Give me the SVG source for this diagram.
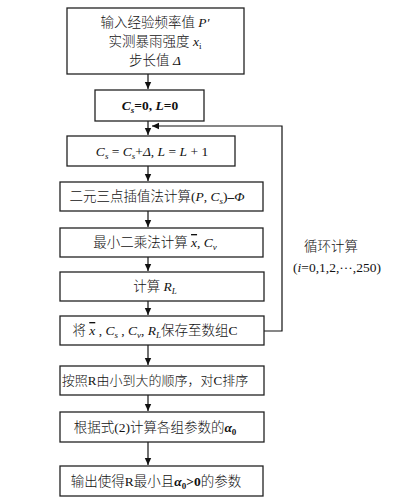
<svg xmlns="http://www.w3.org/2000/svg" width="404" height="501" viewBox="0 0 404 501">
<defs>
<marker id="ah" markerWidth="8" markerHeight="8" refX="7" refY="4" orient="auto" markerUnits="userSpaceOnUse">
<path d="M0,0.8 L7,4 L0,7.2 Z" fill="#111"/>
</marker>
<style>
rect.box{fill:#fff;stroke:#222;stroke-width:1.3}
text{font-family:"Liberation Serif","Noto Sans CJK SC",serif;font-size:13.5px;font-weight:300;fill:#111;text-anchor:middle}
.i{font-style:italic}
.b{font-weight:bold}
.s{font-size:9px}
.ov{text-decoration:overline}
.ln{fill:none;stroke:#111;stroke-width:1.2}
</style>
</defs>
<rect width="404" height="501" fill="#fff"/>
<g id="connectors">
<line class="ln" x1="148" y1="74" x2="148" y2="89" marker-end="url(#ah)"/>
<line class="ln" x1="148" y1="121" x2="148" y2="135" marker-end="url(#ah)"/>
<line class="ln" x1="148" y1="166" x2="148" y2="181" marker-end="url(#ah)"/>
<line class="ln" x1="148" y1="211" x2="148" y2="227" marker-end="url(#ah)"/>
<line class="ln" x1="148" y1="257" x2="148" y2="271" marker-end="url(#ah)"/>
<line class="ln" x1="148" y1="301" x2="148" y2="315" marker-end="url(#ah)"/>
<line class="ln" x1="148" y1="345" x2="148" y2="365" marker-end="url(#ah)"/>
<line class="ln" x1="148" y1="395" x2="148" y2="411" marker-end="url(#ah)"/>
<line class="ln" x1="148" y1="442" x2="148" y2="465" marker-end="url(#ah)"/>
<polyline class="ln" points="264,331 282,331 282,126 152,126" marker-end="url(#ah)"/>
</g>
<g id="n1">
<rect class="box" x="67" y="8" width="177" height="66"/>
<text x="155" y="27">输入经验频率值 <tspan class="i">P′</tspan></text>
<text x="155" y="46">实测暴雨强度 <tspan class="i">x</tspan><tspan class="s" dy="3">i</tspan></text>
<text x="155" y="65">步长值 <tspan class="i">Δ</tspan></text>
</g>
<g id="n2">
<rect class="box" x="95" y="90" width="109" height="31"/>
<text x="150" y="110" class="b"><tspan class="i">C</tspan><tspan class="s i" dy="3">s</tspan><tspan dy="-3">=0, </tspan><tspan class="i">L</tspan>=0</text>
</g>
<g id="n3">
<rect class="box" x="67" y="136" width="168" height="30"/>
<text x="152" y="156"><tspan class="i">C</tspan><tspan class="s i" dy="3">s</tspan><tspan dy="-3"> = </tspan><tspan class="i">C</tspan><tspan class="s i" dy="3">s</tspan><tspan dy="-3">+</tspan><tspan class="i">Δ</tspan>, <tspan class="i">L</tspan> = <tspan class="i">L</tspan> + 1</text>
</g>
<g id="n4">
<rect class="box" x="60" y="182" width="203" height="29"/>
<text x="157" y="201">二元三点插值法计算(<tspan class="i">P</tspan>, <tspan class="i">C</tspan><tspan class="s i" dy="3">s</tspan><tspan dy="-3">)</tspan><tspan class="b">–</tspan><tspan class="i">Φ</tspan></text>
</g>
<g id="n5">
<rect class="box" x="60" y="228" width="203" height="29"/>
<text x="155" y="247">最小二乘法计算 <tspan class="i ov">x</tspan>, <tspan class="i">C</tspan><tspan class="s i" dy="3">v</tspan></text>
</g>
<g id="n6">
<rect class="box" x="60" y="272" width="204" height="29"/>
<text x="155" y="291">计算 <tspan class="i">R</tspan><tspan class="s i" dy="3">L</tspan></text>
</g>
<g id="n7">
<rect class="box" x="60" y="316" width="204" height="29"/>
<text x="155" y="335">将 <tspan class="i ov">x</tspan> , <tspan class="i">C</tspan><tspan class="s i" dy="3">s</tspan><tspan dy="-3"> , </tspan><tspan class="i">C</tspan><tspan class="s i" dy="3">v</tspan><tspan dy="-3">, </tspan><tspan class="i">R</tspan><tspan class="s i" dy="3">L</tspan><tspan dy="-3">保存至数组C</tspan></text>
</g>
<g id="n8">
<rect class="box" x="60" y="366" width="204" height="29"/>
<text x="155" y="385" style="font-size:13px">按照R由小到大的顺序，对C排序</text>
</g>
<g id="n9">
<rect class="box" x="60" y="412" width="204" height="30"/>
<text x="155" y="432">根据式(2)计算各组参数的<tspan class="i b">α</tspan><tspan class="s b" dy="3">0</tspan></text>
</g>
<g id="n10">
<rect class="box" x="60" y="466" width="203" height="30"/>
<text x="156" y="486">输出使得R最小且<tspan class="i b">α</tspan><tspan class="s b" dy="3">0</tspan><tspan class="b" dy="-3">&gt;0</tspan>的参数</text>
</g>
<g id="loop-label">
<text x="331" y="251">循环计算</text>
<text x="337" y="272">(<tspan class="i">i</tspan>=0,1,2,···,250)</text>
</g>
</svg>
